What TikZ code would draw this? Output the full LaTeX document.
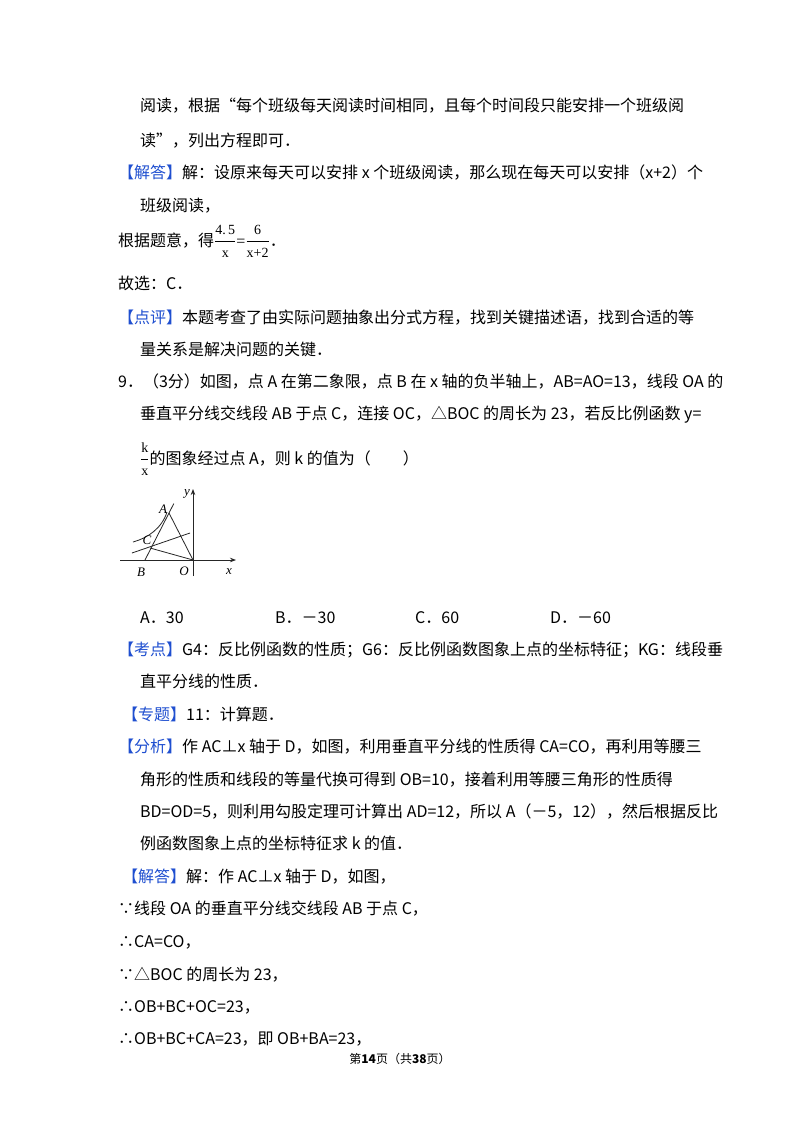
\documentclass[tikz,border=0pt]{standalone}
\usepackage{fontspec}
\usetikzlibrary{arrows.meta,calc}
\setmainfont{Noto Sans CJK SC}
\newfontfamily\tms{Liberation Serif}
\definecolor{tagblue}{HTML}{1F4FD0}
\begin{document}
\begin{tikzpicture}[x=1pt,y=-1pt,
  tl/.style={anchor=base west,inner sep=0pt,font=\fontsize{16}{20}\selectfont},
  lbl/.style={font=\tms\itshape\fontsize{13}{14}\selectfont,inner sep=0pt}]
\useasboundingbox[fill=white] (0,0) rectangle (800,1132);
\newcommand{\tg}[1]{\textcolor{tagblue}{【#1】}}
\newcommand{\fs}[1]{\mbox{\tms\fontsize{14}{15}\selectfont #1}}
\node[tl] (l1) at (140,111) {阅读，根据“每个班级每天阅读时间相同，且每个时间段只能安排一个班级阅};
\node[tl] (l2) at (140,146) {读”，列出方程即可．};
\node[tl] (l3) at (118,178) {\tg{解答}解：设原来每天可以安排 x 个班级阅读，那么现在每天可以安排（x+2）个};
\node[tl] (l4) at (140,211) {班级阅读，};
\node[tl] (l5) at (118,246) {根据题意，得$\displaystyle\frac{\fs{4.\,5}}{\fs{x}}${\tms=}$\displaystyle\frac{\fs{6}}{\fs{x+2}}$．};
\node[tl] (l6) at (118,289) {故选：C．};
\node[tl] (l7) at (118,323) {\tg{点评}本题考查了由实际问题抽象出分式方程，找到关键描述语，找到合适的等};
\node[tl] (l8) at (140,355) {量关系是解决问题的关键．};
\node[tl] (l9) at (118,387) {9．（3分）如图，点 A 在第二象限，点 B 在 x 轴的负半轴上，AB=AO=13，线段 OA 的};
\node[tl] (l10) at (140,419) {垂直平分线交线段 AB 于点 C，连接 OC，△BOC 的周长为 23，若反比例函数 y=};
\node[tl] (l11) at (140,464) {$\displaystyle\frac{\fs{k}}{\fs{x}}$的图象经过点 A，则 k 的值为（　　）};
\node[tl] (oa) at (140,623) {A．30};
\node[tl] (ob) at (275,623) {B．－30};
\node[tl] (oc) at (415,623) {C．60};
\node[tl] (od) at (550,623) {D．－60};
\node[tl] (l12) at (118,655) {\tg{考点}G4：反比例函数的性质；G6：反比例函数图象上点的坐标特征；KG：线段垂};
\node[tl] (l13) at (140,687) {直平分线的性质．};
\node[tl] (l14) at (122,720) {\tg{专题}11：计算题．};
\node[tl] (l15) at (118,752) {\tg{分析}作 AC⊥x 轴于 D，如图，利用垂直平分线的性质得 CA=CO，再利用等腰三};
\node[tl] (l16) at (140,785) {角形的性质和线段的等量代换可得到 OB=10，接着利用等腰三角形的性质得};
\node[tl] (l17) at (140,817) {BD=OD=5，则利用勾股定理可计算出 AD=12，所以 A（－5，12），然后根据反比};
\node[tl] (l18) at (140,849) {例函数图象上点的坐标特征求 k 的值．};
\node[tl] (l19) at (122,882) {\tg{解答}解：作 AC⊥x 轴于 D，如图，};
\node[tl] (l20) at (118,914) {∵线段 OA 的垂直平分线交线段 AB 于点 C，};
\node[tl] (l21) at (118,947) {∴CA=CO，};
\node[tl] (l22) at (118,980) {∵△BOC 的周长为 23，};
\node[tl] (l23) at (118,1012) {∴OB+BC+OC=23，};
\node[tl] (l24) at (118,1044) {∴OB+BC+CA=23，即 OB+BA=23，};
\node[anchor=base,inner sep=0pt,font=\fontsize{12}{14}\selectfont] (ft) at (400,1063) {第\textbf{14}页（共\textbf{38}页）};
% figure
\coordinate (O) at (193,560);
\coordinate (B) at (145,560);
\coordinate (A) at (169,513);
\coordinate (C) at (150,548);
\begin{scope}[line width=0.8pt,black!85]
\draw[-{Stealth[length=6pt]}] (120,560) -- (236,560);
\draw[-{Stealth[length=6pt]}] (193,576) -- (193,489);
\draw (B) -- ($(B)!1.2!(A)$);
\draw (A) -- (O);
\draw (C) -- (O);
\draw (132,553) -- (190,533);
\draw (133,542) .. controls (148,538) and (162,528) .. (167,512);
\end{scope}
\node[lbl] (tA) at (163,509) {A};
\node[lbl] (tC) at (147,540) {C};
\node[lbl] (tB) at (141,572) {B};
\node[lbl] (tO) at (184,571) {O};
\node[lbl] (tx) at (229,572) {x};
\node[lbl] (ty) at (187,494) {y};
\end{tikzpicture}
\end{document}
